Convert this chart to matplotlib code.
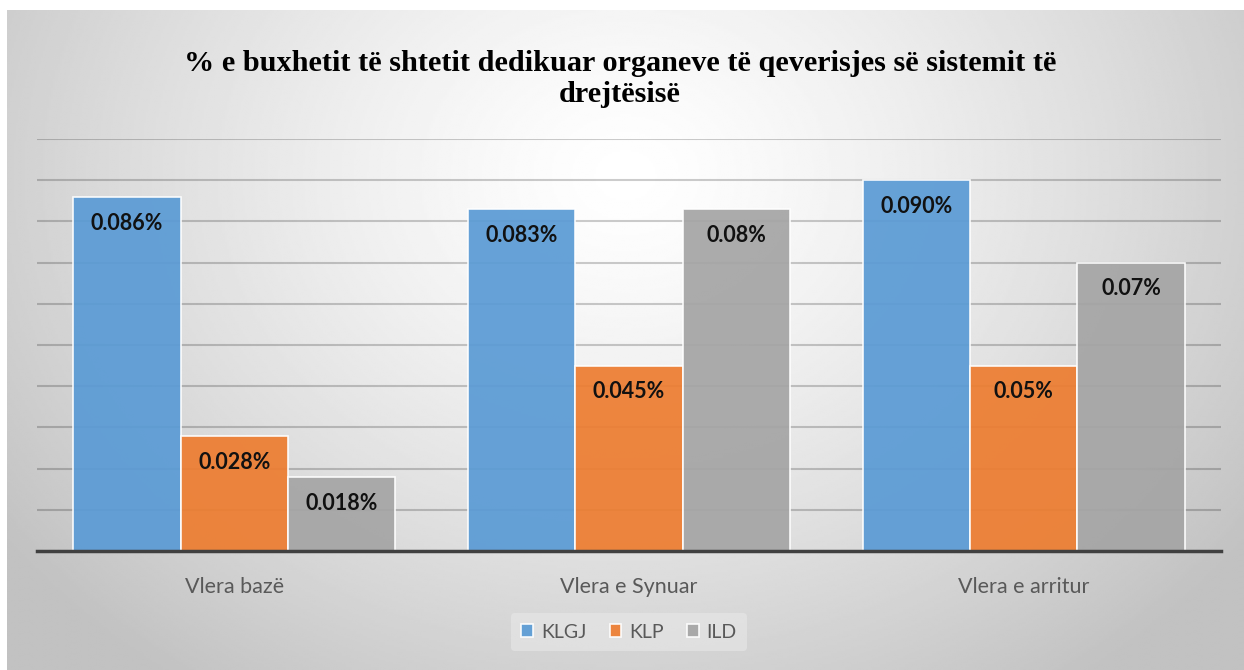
import matplotlib.pyplot as plt
import numpy as np

# Të dhënat
kategorite = ['Vlera bazë', 'Vlera e Synuar', 'Vlera e arritur']
seri = ['KLGJ', 'KLP', 'ILD']
klgj = [0.086, 0.083, 0.090]
klp = [0.028, 0.045, 0.045]
ild = [0.018, 0.083, 0.070]
etiketa = [['0.086%', '0.083%', '0.090%'],
           ['0.028%', '0.045%', '0.05%'],
           ['0.018%', '0.08%', '0.07%']]
ngjyra = ['#5b9bd5', '#ed7d31', '#a5a5a5']

W, H = 1244, 670
fig = plt.figure(figsize=(W / 100, H / 100), dpi=100)
fig.patch.set_facecolor('white')

# Sfondi me gradient
bg = fig.add_axes([7 / W, 0, 1 - 7 / W, 1 - 10 / H], zorder=-10)
yy, xx = np.mgrid[0:1:300j, 0:1:600j]
r = np.sqrt(((xx - 0.5) / 0.62) ** 2 + ((yy - 0.25) / 0.95) ** 2)
val = 1.0 - 0.24 * np.clip(r, 0, 1) ** 1.3
bg.imshow(val, cmap='gray', vmin=0, vmax=1, aspect='auto',
          extent=[0, 1, 1, 0], interpolation='bilinear')
bg.axis('off')

ax = fig.add_axes([37 / W, (H - 551) / H, (1221 - 37) / W, (551 - 139) / H])
ax.patch.set_alpha(0)

x = np.arange(len(kategorite))
w = 0.272
for i, vals in enumerate([klgj, klp, ild]):
    pos = x + (i - 1) * w
    bars = ax.bar(pos, vals, w, color=ngjyra[i], edgecolor='white',
                  linewidth=1.2, alpha=0.93, zorder=2, label=seri[i])
    for b, t in zip(bars, etiketa[i]):
        ax.annotate(t, (b.get_x() + b.get_width() / 2, b.get_height()),
                    xytext=(0, -19), textcoords='offset points',
                    ha='center', va='center', fontsize=15.5,
                    fontweight='bold', family='Lato', color='#111111',
                    zorder=4)

ax.set_xlim(-0.5, 2.5)
ax.set_ylim(0, 0.10)
ax.set_yticks(np.arange(0.01, 0.101, 0.01))
ax.yaxis.grid(True, color='black', alpha=0.2, linewidth=1.5, zorder=1)
ax.set_axisbelow(True)
ax.tick_params(axis='y', left=False, labelleft=False)
ax.tick_params(axis='x', length=0, pad=26)
ax.set_xticks(x)
ax.set_xticklabels(kategorite, fontsize=15.5, family='Lato', color='#595959',
                   va='center')
for s in ['top', 'right', 'left']:
    ax.spines[s].set_visible(False)
ax.spines['bottom'].set_color('#404040')
ax.spines['bottom'].set_linewidth(2.5)

fig.text(620 / W, 1 - 79 / H,
         '% e buxhetit të shtetit dedikuar organeve të qeverisjes së sistemit të\ndrejtësisë',
         ha='center', va='center', fontsize=21.8, fontweight='bold',
         family='Liberation Serif', linespacing=1.15)

leg = fig.legend(loc='center', bbox_to_anchor=(629 / W, 1 - 632 / H), ncol=3,
                 frameon=True, prop={'family': 'Lato', 'size': 14},
                 handlelength=0.6, handleheight=0.6, handletextpad=0.4,
                 columnspacing=1.2, borderpad=0.55)
leg.get_frame().set_facecolor('#e8e8e8')
leg.get_frame().set_edgecolor('none')
leg.get_frame().set_alpha(0.6)
for t in leg.get_texts():
    t.set_color('#595959')

fig.savefig('out.png', dpi=100)
